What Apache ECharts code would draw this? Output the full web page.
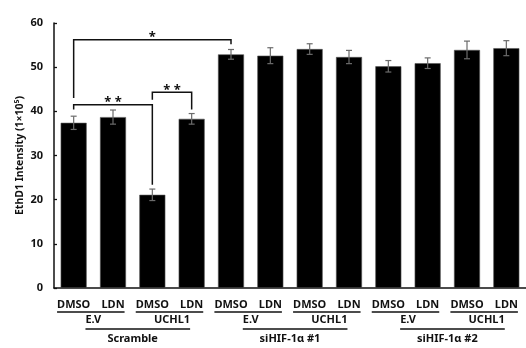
<!DOCTYPE html>
<html>
<head>
<meta charset="utf-8">
<script src="https://cdn.jsdelivr.net/npm/echarts@6/dist/echarts.min.js"></script>
<style>
html, body { margin: 0; padding: 0; background: #fff; }
#chart { width: 526px; height: 348px; }
</style>
</head>
<body>
<div id="chart"></div>
<script>
// treatment under each bar
const treatments = ['DMSO', 'LDN', 'DMSO', 'LDN', 'DMSO', 'LDN', 'DMSO', 'LDN', 'DMSO', 'LDN', 'DMSO', 'LDN'];
// EthD1 intensity (1x10^5), mean and error
const means = [37.4, 38.7, 21.1, 38.3, 52.9, 52.6, 54.1, 52.3, 50.2, 50.9, 53.9, 54.3];
const errors = [1.5, 1.6, 1.3, 1.2, 1.1, 1.8, 1.2, 1.5, 1.3, 1.2, 2.0, 1.7];
// vector groups: label, first bar, last bar
const vectorLabels = ['E.V', 'UCHL1', 'E.V', 'UCHL1', 'E.V', 'UCHL1'];
const vectorRanges = [[0, 1], [2, 3], [4, 5], [6, 7], [8, 9], [10, 11]];
// siRNA groups
const sirnaLabels = ['Scramble', 'siHIF-1\u03b1 #1', 'siHIF-1\u03b1 #2'];
const sirnaRanges = [[0, 3], [4, 7], [8, 11]];
// significance brackets: from bar, to bar, top, left end, right end
const bracketRows = [[0, 4, 56.2, 43.0, 55.2], [0, 2, 41.5, 40.4, 23.4], [2, 3, 44.3, 42.6, 40.4]];
const bracketMarks = ['*', '* *', '* *'];

const FONT = '"Noto Sans", "DejaVu Sans", sans-serif';
const measureCtx = document.createElement('canvas').getContext('2d');
function textWidth(s) {
    measureCtx.font = 'bold 11px ' + FONT;
    return measureCtx.measureText(s).width;
}

const chart = echarts.init(document.getElementById('chart'));

// error bars
function renderError(params, api) {
    const x = api.value(0);
    const lo = api.coord([x, api.value(1)]);
    const hi = api.coord([x, api.value(2)]);
    const cap = 3;
    const st = { stroke: '#6b6b6b', lineWidth: 1.2 };
    return {
        type: 'group',
        children: [
            { type: 'line', shape: { x1: lo[0], y1: lo[1], x2: hi[0], y2: hi[1] }, style: st },
            { type: 'line', shape: { x1: lo[0] - cap, y1: lo[1], x2: lo[0] + cap, y2: lo[1] }, style: st },
            { type: 'line', shape: { x1: hi[0] - cap, y1: hi[1], x2: hi[0] + cap, y2: hi[1] }, style: st }
        ]
    };
}

// significance brackets
function renderBracket(params, api) {
    const a = api.value(0), b = api.value(1);
    const p1 = api.coord([a, api.value(3)]);
    const p2 = api.coord([a, api.value(2)]);
    const p3 = api.coord([b, api.value(2)]);
    const p4 = api.coord([b, api.value(4)]);
    return {
        type: 'group',
        children: [
            { type: 'polyline', shape: { points: [p1, p2, p3, p4] }, style: { stroke: '#111', lineWidth: 1.5, fill: null } },
            { type: 'text', style: { text: bracketMarks[params.dataIndex], x: (p2[0] + p3[0]) / 2, y: p2[1] - 9,
                align: 'center', verticalAlign: 'top', font: 'bold 13px ' + FONT, fill: '#111' } }
        ]
    };
}

// vector labels with underline under the treatment pair
function renderVector(params, api) {
    const a = api.value(0), b = api.value(1);
    const pa = api.coord([a, 0]), pb = api.coord([b, 0]);
    const y0 = pa[1];
    const x1 = pa[0] - textWidth(treatments[a]) / 2;
    const x2 = pb[0] + textWidth(treatments[b]) / 2;
    return {
        type: 'group',
        children: [
            { type: 'line', shape: { x1: x1, y1: y0 + 24, x2: x2, y2: y0 + 24 }, style: { stroke: '#111', lineWidth: 1.3 } },
            { type: 'text', style: { text: vectorLabels[params.dataIndex], x: (pa[0] + pb[0]) / 2, y: y0 + 32,
                align: 'center', verticalAlign: 'middle', font: 'bold 11px ' + FONT, fill: '#111' } }
        ]
    };
}

// siRNA labels with underline under the vector labels
function renderSirna(params, api) {
    const a = api.value(0), b = api.value(1);
    const pa = api.coord([a, 0]), pb = api.coord([b, 0]);
    const y0 = pa[1];
    const first = vectorRanges.findIndex(r => r[0] === a);
    const last = vectorRanges.findIndex(r => r[1] === b);
    const c1 = (api.coord([vectorRanges[first][0], 0])[0] + api.coord([vectorRanges[first][1], 0])[0]) / 2;
    const c2 = (api.coord([vectorRanges[last][0], 0])[0] + api.coord([vectorRanges[last][1], 0])[0]) / 2;
    const x1 = c1 - textWidth(vectorLabels[first]) / 2;
    const x2 = c2 + textWidth(vectorLabels[last]) / 2;
    return {
        type: 'group',
        children: [
            { type: 'line', shape: { x1: x1, y1: y0 + 41, x2: x2, y2: y0 + 41 }, style: { stroke: '#111', lineWidth: 1.3 } },
            { type: 'text', style: { text: sirnaLabels[params.dataIndex], x: (pa[0] + pb[0]) / 2, y: y0 + 51,
                align: 'center', verticalAlign: 'middle', font: 'bold 11px ' + FONT, fill: '#111' } }
        ]
    };
}

chart.setOption({
    animation: false,
    grid: { left: 54, top: 23, width: 480, bottom: 60 },
    xAxis: {
        type: 'category',
        data: treatments,
        axisLine: { lineStyle: { color: '#111', width: 1.5 } },
        axisTick: { show: false },
        axisLabel: { color: '#111', fontWeight: 'bold', fontSize: 11, fontFamily: FONT, margin: 11, interval: 0 }
    },
    yAxis: {
        type: 'value',
        min: 0, max: 60, interval: 10,
        name: 'EthD1 Intensity (1\u00d710\u2075)',
        nameLocation: 'middle',
        nameGap: 28,
        nameMoveOverlap: false,
        nameTextStyle: { color: '#111', fontWeight: 'bold', fontSize: 10.5, fontFamily: FONT },
        axisLine: { show: true, lineStyle: { color: '#111', width: 1.5 } },
        axisTick: { show: true, inside: true, length: 3, lineStyle: { color: '#111', width: 1.3 } },
        axisLabel: { color: '#111', fontWeight: 'bold', fontSize: 11, fontFamily: FONT, margin: 11 },
        splitLine: { show: false }
    },
    series: [
        {
            type: 'bar',
            data: means,
            barWidth: 26,
            itemStyle: { color: '#000', borderColor: '#555', borderWidth: 0.6 },
            z: 2
        },
        {
            type: 'custom',
            renderItem: renderError,
            data: means.map((m, i) => [i, m - errors[i], m + errors[i]]),
            z: 3
        },
        {
            type: 'custom',
            renderItem: renderBracket,
            data: bracketRows,
            z: 4
        },
        {
            type: 'custom',
            renderItem: renderVector,
            data: vectorRanges,
            z: 4
        },
        {
            type: 'custom',
            renderItem: renderSirna,
            data: sirnaRanges,
            z: 4
        }
    ]
});
</script>
</body>
</html>
